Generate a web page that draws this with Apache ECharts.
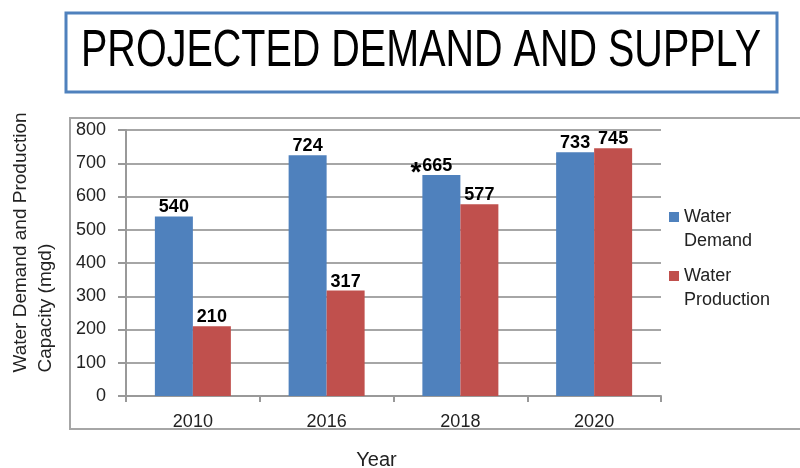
<!DOCTYPE html>
<html>
<head>
<meta charset="utf-8">
<script src="https://cdn.jsdelivr.net/npm/echarts@6/dist/echarts.min.js"></script>
<style>
  html, body { margin: 0; padding: 0; background: #fff; }
  #chart { width: 800px; height: 468px; }
</style>
</head>
<body>
<div id="chart"></div>
<script>
var years = ['2010', '2016', '2018', '2020'];
var demand = [540, 724, 665, 733];
var production = [210, 317, 577, 745];
var demandMarks = ['', '', '*', ''];
var yTicks = [0, 100, 200, 300, 400, 500, 600, 700, 800];
var yNameLines = ['Water Demand and Production', 'Capacity (mgd)'];

var myChart = echarts.init(document.getElementById('chart'));

// legend icon: square on top of a taller invisible box, so it lines up with the first text line
var legendIcon = 'path://M0,0L10,0L10,10L0,10Z M0,34L0.01,34';

var labelStyle = {
  show: true,
  position: 'top',
  distance: 0,
  color: '#000',
  fontFamily: 'Liberation Sans',
  fontWeight: 'bold',
  fontSize: 18
};

var option = {
  animation: false,
  backgroundColor: '#fff',
  graphic: [
    {
      type: 'rect',
      shape: { x: 66, y: 13, width: 711, height: 79 },
      style: { fill: '#fff', stroke: '#4f81bd', lineWidth: 3 }
    },
    {
      type: 'text',
      x: 421,
      y: 52,
      scaleX: 0.76,
      style: {
        text: 'PROJECTED DEMAND AND SUPPLY',
        fontFamily: 'Liberation Sans',
        fontSize: 52,
        fill: '#000',
        align: 'center',
        verticalAlign: 'middle'
      }
    },
    {
      type: 'rect',
      z: -1,
      shape: { x: 70, y: 118, width: 740, height: 311 },
      style: { fill: 'none', stroke: '#a6a6a6', lineWidth: 2 }
    }
  ],
  grid: {
    left: 126, right: 139, top: 130, bottom: 72,
    containLabel: false,
    outerBoundsMode: 'none'
  },
  legend: {
    orient: 'vertical',
    left: 664,
    top: 200,
    itemWidth: 10,
    itemHeight: 34,
    itemGap: 11,
    icon: legendIcon,
    textStyle: {
      fontFamily: 'Liberation Sans',
      fontSize: 18,
      lineHeight: 24,
      color: '#222'
    },
    formatter: function (name) { return name.replace(' ', '\n'); },
    data: ['Water Demand', 'Water Production']
  },
  xAxis: {
    type: 'category',
    data: years,
    name: 'Year',
    nameLocation: 'middle',
    nameGap: 54,
    nameTextStyle: {
      fontFamily: 'Liberation Sans',
      fontSize: 20,
      color: '#222',
      padding: [0, 34, 0, 0]
    },
    axisLine: { lineStyle: { color: '#999', width: 2 } },
    axisTick: { show: true, length: 6, lineStyle: { color: '#999', width: 2 } },
    axisLabel: {
      fontFamily: 'Liberation Sans',
      fontSize: 18,
      color: '#222',
      margin: 17
    }
  },
  yAxis: {
    type: 'value',
    min: yTicks[0],
    max: yTicks[yTicks.length - 1],
    interval: 100,
    name: yNameLines.map(function (s) { return '{a|' + s + '}'; }).join('\n'),
    nameLocation: 'middle',
    nameGap: 68,
    nameTextStyle: {
      fontFamily: 'Liberation Sans',
      fontSize: 19,
      lineHeight: 25,
      color: '#222',
      width: 262,
      padding: [0, 0, 0, 41],
      rich: {
        a: { align: 'left', fontFamily: 'Liberation Sans', fontSize: 19, lineHeight: 25, color: '#222' }
      }
    },
    axisLine: { show: true, lineStyle: { color: '#999', width: 2 } },
    axisTick: { show: true, length: 8, lineStyle: { color: '#999', width: 2 } },
    axisLabel: {
      fontFamily: 'Liberation Sans',
      fontSize: 18,
      color: '#222',
      margin: 20
    },
    splitLine: { lineStyle: { color: '#a6a6a6', width: 2 } }
  },
  series: [
    {
      name: 'Water Demand',
      type: 'bar',
      barWidth: 38,
      barGap: '0%',
      itemStyle: { color: '#4f81bd' },
      data: demand.map(function (v, i) {
        var item = { value: v };
        if (demandMarks[i]) {
          item.label = {
            formatter: '{s|' + demandMarks[i] + '}{v|{c}}',
            offset: [-10, 0],
            rich: {
              s: { fontSize: 28, fontWeight: 'bold', color: '#000', lineHeight: 4, padding: [14, 1, 0, 0] },
              v: { fontSize: 18, fontWeight: 'bold', color: '#000', lineHeight: 18 }
            }
          };
        }
        return item;
      }),
      label: labelStyle
    },
    {
      name: 'Water Production',
      type: 'bar',
      barWidth: 38,
      itemStyle: { color: '#c0504d' },
      data: production,
      label: labelStyle
    }
  ]
};

myChart.setOption(option);
</script>
</body>
</html>
